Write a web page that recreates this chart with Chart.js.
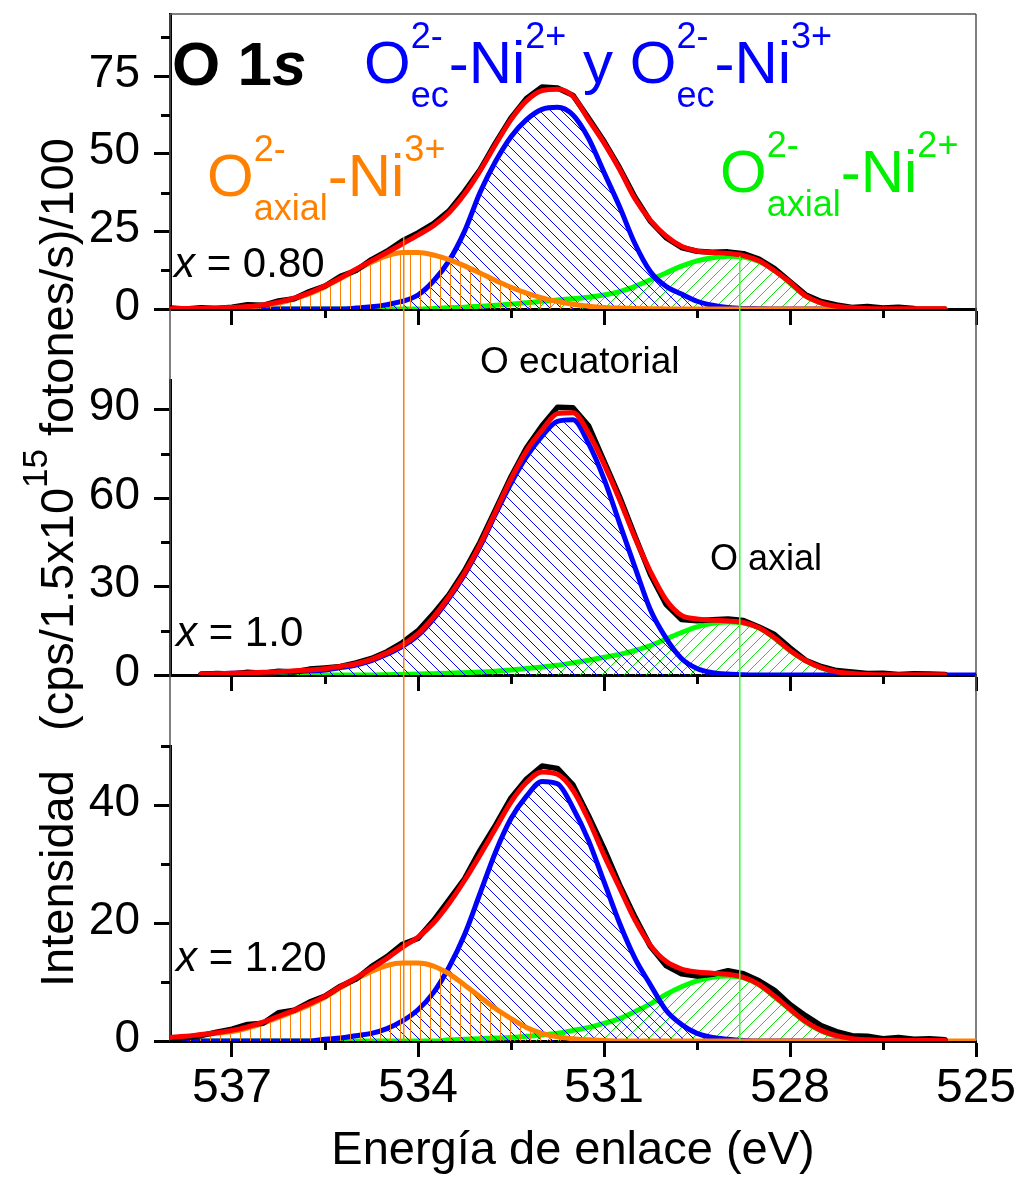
<!DOCTYPE html>
<html>
<head>
<meta charset="utf-8">
<script src="https://cdn.jsdelivr.net/npm/chart.js@4.4.1/dist/chart.umd.min.js"></script>
<style>
html,body{margin:0;padding:0;background:#fff;}
#wrap{position:relative;width:1021px;height:1179px;overflow:hidden;font-family:"Liberation Sans",Arial,sans-serif;color:#000;}
canvas{position:absolute;left:0;}
.lbl{position:absolute;white-space:nowrap;line-height:1;}
.ss{display:inline-block;position:relative;font-size:36px;line-height:1;}
.ss .sb{display:block;position:relative;top:24px;}
.ss .sp{position:absolute;left:0;top:-35px;}
.sup{font-size:36px;position:relative;top:-35px;}
</style>
</head>
<body>
<div id="wrap">
<canvas id="c1" width="1021" height="340" style="top:0px"></canvas>
<canvas id="c2" width="1021" height="397" style="top:309px"></canvas>
<canvas id="c3" width="1021" height="504" style="top:675px"></canvas>

<div class="lbl" style="left:33px;top:987px;font-size:47px;transform-origin:0 0;transform:rotate(-90deg)">Intensidad&nbsp;&nbsp; (cps/1.5x10<span style="font-size:35px;position:relative;top:-26px">15</span> fotones/s)/100</div>

<div class="lbl" style="left:172px;top:33px;font-size:62px;font-weight:bold">O 1<i>s</i></div>
<div class="lbl" style="left:364px;top:33px;font-size:60px;color:#0000FF">O<span class="ss"><span class="sp">2-</span><span class="sb">ec</span></span>-Ni<span class="sup">2+</span> y O<span class="ss"><span class="sp">2-</span><span class="sb">ec</span></span>-Ni<span class="sup">3+</span></div>
<div class="lbl" style="left:207px;top:146px;font-size:60px;color:#FF8000">O<span class="ss"><span class="sp">2-</span><span class="sb">axial</span></span>-Ni<span class="sup">3+</span></div>
<div class="lbl" style="left:720px;top:142px;font-size:60px;color:#00F000">O<span class="ss"><span class="sp">2-</span><span class="sb">axial</span></span>-Ni<span class="sup">2+</span></div>
<div class="lbl" style="left:174px;top:242px;font-size:42px"><i>x</i> = 0.80</div>
<div class="lbl" style="left:480px;top:342px;font-size:37px">O ecuatorial</div>
<div class="lbl" style="left:710px;top:540px;font-size:36px">O axial</div>
<div class="lbl" style="left:176px;top:611px;font-size:42px"><i>x</i> = 1.0</div>
<div class="lbl" style="left:176px;top:936px;font-size:42px"><i>x</i> = 1.20</div>
</div>

<script>
// ---------- data ----------
const energy = [538,537.75,537.5,537.25,537,536.75,536.5,536.25,536,535.75,535.5,535.25,535,534.75,534.5,534.25,534,533.75,533.5,533.25,533,532.75,532.5,532.25,532,531.75,531.5,531.25,531,530.75,530.5,530.25,530,529.75,529.5,529.25,529,528.75,528.5,528.25,528,527.75,527.5,527.25,527,526.75,526.5,526.25,526,525.75,525.5,525.25,525];

const xMajorTicks = [537,534,531,528,525];
const xMinorTicks = [535.5,532.5,529.5,526.5];

// panel 1 : x = 0.80
const p1Data   = [0.3,0.0,0.4,0.2,0.6,1.4,1.2,2.6,3.3,5.6,7.4,10.5,12.4,15.9,18.6,22.0,24.5,27.5,31.6,37.8,44.8,53.5,61.5,67.8,71.5,71.2,68.8,61.5,54.0,45.5,36.0,28.2,23.0,19.8,18.6,18.3,18.4,17.8,16.1,13.0,8.8,4.6,2.4,1.3,0.5,0.8,0.3,0.6,0.2,null,null,null,null];
const p1Fit    = [0.1,0.15,0.2,0.3,0.5,0.8,1.3,2.2,3.5,5.2,7.5,10.0,12.8,15.5,18.2,21.0,23.8,26.8,31.0,37.0,44.5,53.0,61.0,67.0,70.3,70.8,68.5,61.0,53.5,45.0,35.5,28.5,23.5,20.2,18.7,18.2,17.9,17.2,15.5,12.3,8.6,4.2,2.0,0.9,0.4,0.2,0.1,0.1,0.1,0.1,0.1,null,null];
const p1AxNi3  = [0,0.03,0.06,0.14,0.3,0.6,1.1,1.9,3.2,4.9,7.1,9.8,12.5,15.1,17.1,18.2,18.2,17.4,15.9,13.9,11.6,9.2,7.0,5.1,3.6,2.4,1.5,0.9,0.5,0.3,0.15,0.08,0.04,0,0,0,0,0,0,0,0,0,0,0,0,0,0,0,0,0,0,null,null];
const p1Ec     = [0,0,0,0,0,0,0,0,0,0,0,0,0.3,0.7,1.4,2.5,4.5,9.0,15.5,25.0,37.5,47.5,55.5,61.0,64.3,65.0,62.5,55.0,44.0,33.0,21.0,12.0,7.3,4.8,2.5,1.2,0.5,0.2,0.1,0,0,0,0,0,0,0,0,0,0,0,0,null,null];
const p1AxNi2  = [0,0,0,0,0,0,0,0,0,0,0,0,0,0,0,0,0,0.2,0.4,0.6,0.9,1.2,1.6,2.0,2.5,2.9,3.3,3.8,4.5,5.6,7.3,9.4,11.6,13.8,15.5,16.5,17.0,16.7,15.3,12.5,8.3,4.2,2.0,0.9,0.35,0.12,0,0,0,0,0,null,null];
const p1YMajor = [0,25,50,75];
const p1YMinor = [12.5,37.5,62.5,87.5];
const p1YMax   = 95;
const p1RefTops = [23.2,17.0];

// panel 2 : x = 1.0
const p2Data   = [null,null,0.2,0.5,0.3,0.9,0.6,1.3,1.0,2.0,2.4,2.9,4.1,5.6,7.9,11.0,15.0,20.8,27.2,35.3,45.0,56.0,67.2,77.0,84.5,90.8,90.6,84.5,72.5,60.5,47.0,34.0,24.0,18.8,18.4,18.7,19.0,18.5,16.3,13.7,9.2,5.0,2.9,1.5,1.0,0.5,0.6,0.2,0.4,0.3,0.2,null,null];
const p2Fit    = [null,null,0.3,0.4,0.6,0.7,0.9,1.1,1.4,1.7,2.1,2.9,3.8,5.3,7.5,10.2,14.0,19.6,26.6,34.6,44.2,55.3,66.5,76.0,83.0,88.6,88.9,82.0,71.5,59.5,46.5,35.0,25.5,20.2,19.0,18.6,18.3,17.8,16.0,12.6,8.3,4.9,2.5,1.1,0.5,0.2,0.1,0.1,0.1,0.1,0.1,null,null];
const p2Ec     = [null,null,0.4,0.5,0.6,0.7,0.8,1.0,1.2,1.4,1.7,2.5,3.4,4.9,7.0,9.7,13.4,19.0,26.0,34.0,43.5,54.5,65.0,74.0,81.0,86.0,86.5,78.5,66.5,51.5,36.5,22.0,12.5,5.6,2.2,0.8,0.3,0.1,0,0,0,0,0,0,0,0,0,0,0,0,0,0,0];
const p2AxNi2  = [null,null,0,0,0,0,0,0,0,0,0,0,0,0,0.1,0.2,0.3,0.45,0.6,0.8,1.0,1.3,1.7,2.2,2.7,3.3,4.1,5.0,6.0,7.0,8.3,10.0,12.2,14.4,16.3,17.5,18.0,17.6,15.9,12.5,8.2,4.8,2.4,1.0,0.4,0.15,0,0,0,0,0,null,null];
const p2YMajor = [0,30,60,90];
const p2YMinor = [15,45,75];
const p2YMax   = 100;

// panel 3 : x = 1.20
const p3Data   = [0.2,0.6,0.9,1.5,2.0,2.8,3.0,4.8,5.2,6.6,7.6,9.3,10.5,12.6,14.3,16.4,17.4,20.4,23.9,27.5,32.3,36.6,41.2,44.4,46.6,46.2,43.4,38.2,32.6,26.5,21.0,16.0,12.8,11.4,11.0,11.3,11.9,11.4,10.2,8.6,6.2,4.3,2.6,1.6,0.9,0.8,0.4,0.6,0.3,0.4,0.2,null,null];
const p3Fit    = [0.6,0.8,1.1,1.4,1.8,2.4,3.2,4.2,5.2,6.3,7.6,9.2,10.7,12.3,14.0,15.9,17.6,20.0,23.3,27.2,31.5,36.0,40.5,43.8,45.6,45.2,42.5,37.5,31.5,26.0,20.5,16.2,13.5,12.2,11.7,11.5,11.3,10.8,9.6,7.6,5.4,3.3,1.8,0.9,0.4,0.2,0.1,0.1,0.1,0.1,0.1,null,null];
const p3AxNi3  = [0.5,0.7,1.0,1.3,1.6,2.2,3.0,4.0,5.0,6.1,7.4,9.0,10.5,11.8,12.8,13.2,13.2,12.7,11.4,9.5,7.5,5.5,3.8,2.3,1.3,0.7,0.4,0.2,0.1,0,0,0,0,0,0,0,0,0,0,0,0,0,0,0,0,0,0,0,0,0,0,0,0];
const p3Ec     = [0,0,0,0,0,0,0,0,0,0,0.3,0.5,0.9,1.3,2.1,3.4,5.3,8.2,12.5,18.0,25.0,32.0,37.7,41.5,44.0,43.6,39.5,34.0,27.0,20.0,14.0,9.5,5.2,2.8,1.3,0.6,0.3,0.1,0,0,0,0,0,0,0,0,0,0,0,0,0,null,null];
const p3AxNi2  = [0,0,0,0,0,0,0,0,0,0,0,0,0,0,0,0,0,0,0.2,0.3,0.4,0.5,0.6,0.8,1.0,1.3,1.8,2.3,3.0,3.8,5.0,6.3,7.9,9.2,10.2,10.8,11.0,10.7,9.5,7.5,5.3,3.2,1.7,0.8,0.35,0.15,0,0,0,0,0,null,null];
const p3YMajor = [0,20,40];
const p3YMinor = [10,30,50];
const p3YMax   = 50;

// vertical reference lines (binding energies)
const refLineX = [534.23, 528.81];
const refLineColors = ['#FF8000', '#33FF33'];

// ---------- styling helpers ----------
const FONT = '"Liberation Sans", Arial, sans-serif';
Chart.defaults.font.family = FONT;
Chart.defaults.color = '#000';

function hatch(color, kind, s) {
  const c = document.createElement('canvas');
  c.width = s; c.height = s;
  const g = c.getContext('2d');
  g.strokeStyle = color; g.lineWidth = 1;
  g.beginPath();
  if (kind === 'v') {
    g.moveTo(0.5, 0); g.lineTo(0.5, s);
  } else if (kind === 'b') { // "\"
    g.moveTo(0, 0); g.lineTo(s, s);
    g.moveTo(-1, s - 1); g.lineTo(1, s + 1);
    g.moveTo(s - 1, -1); g.lineTo(s + 1, 1);
  } else { // "/"
    g.moveTo(0, s); g.lineTo(s, 0);
    g.moveTo(-1, 1); g.lineTo(1, -1);
    g.moveTo(s - 1, s + 1); g.lineTo(s + 1, s - 1);
  }
  g.stroke();
  return g.createPattern(c, 'repeat');
}
const patBlue = hatch('#0000FF', 'b', 11);
const patGreen = hatch('#10E010', 'f', 11);
const patOrange = hatch('#FF8000', 'v', 10);

function pts(arr) { return energy.map((e, i) => ({ x: e, y: arr[i] })); }
function lineDs(arr, color, width, pattern, smooth) {
  return {
    data: pts(arr),
    borderColor: color,
    borderWidth: width,
    pointRadius: 0,
    borderJoinStyle: 'round',
    borderCapStyle: 'round',
    fill: pattern ? 'origin' : false,
    backgroundColor: pattern || 'transparent',
    cubicInterpolationMode: smooth ? 'monotone' : 'default',
    tension: 0
  };
}

// ---------- plugins (draw via the chart's scales) ----------
const minorTickPlugin = {
  id: 'minorTicks',
  afterDraw(chart, args, o) {
    const { ctx, chartArea: a, scales: { x, y } } = chart;
    ctx.save();
    ctx.strokeStyle = '#000'; ctx.lineWidth = 3;
    ctx.beginPath();
    o.x.forEach(v => { const px = Math.round(x.getPixelForValue(v)) + 0.5; ctx.moveTo(px, a.bottom); ctx.lineTo(px, a.bottom + o.len); });
    o.y.forEach(v => { const py = Math.round(y.getPixelForValue(v)) + 0.5; ctx.moveTo(a.left, py); ctx.lineTo(a.left - o.len, py); });
    ctx.stroke();
    ctx.restore();
  }
};
const framePlugin = {
  id: 'frame',
  beforeDatasetsDraw(chart, args, o) {
    const { ctx, chartArea: a } = chart;
    ctx.save();
    ctx.strokeStyle = '#555'; ctx.lineWidth = 1.5;
    ctx.beginPath();
    const top = o.fromCanvasTop ? 0 : a.top;
    ctx.moveTo(a.left, top); ctx.lineTo(a.left, a.bottom);
    ctx.moveTo(a.right, top); ctx.lineTo(a.right, a.bottom);
    if (o.topLine) { ctx.moveTo(a.left, a.top); ctx.lineTo(a.right, a.top); }
    ctx.stroke();
    ctx.restore();
  }
};
const refLinePlugin = {
  id: 'refLines',
  afterDatasetsDraw(chart, args, o) {
    const { ctx, chartArea: a, scales: { x, y } } = chart;
    ctx.save();
    ctx.lineWidth = 1.5;
    refLineX.forEach((v, i) => {
      const px = x.getPixelForValue(v);
      const top = o.tops ? y.getPixelForValue(o.tops[i]) : 0;
      ctx.strokeStyle = refLineColors[i];
      ctx.beginPath(); ctx.moveTo(px, top); ctx.lineTo(px, a.bottom); ctx.stroke();
    });
    ctx.restore();
  }
};

function makeChart(id, cfg) {
  const gridOpts = { display: true, drawOnChartArea: false, drawTicks: true, tickLength: 16, tickWidth: 3, tickColor: '#000' };
  const borderOpts = { display: true, color: '#000', width: 3 };
  return new Chart(document.getElementById(id), {
    type: 'line',
    data: { datasets: cfg.datasets },
    options: {
      responsive: false,
      animation: false,
      events: [],
      layout: { padding: { top: cfg.padTop, right: 45, left: 0, bottom: 0 } },
      plugins: {
        legend: { display: false },
        tooltip: { enabled: false },
        minorTicks: { x: xMinorTicks, y: cfg.yMinor, len: 9 },
        frame: { fromCanvasTop: cfg.frameFromTop, topLine: cfg.topLine },
        refLines: { tops: cfg.refTops }
      },
      scales: {
        x: {
          type: 'linear', min: 525, max: 538, reverse: true,
          afterBuildTicks: s => { s.ticks = xMajorTicks.map(v => ({ value: v })); },
          afterFit: s => { s.height = cfg.xHeight; s.paddingLeft = 0; s.paddingRight = 0; },
          grid: gridOpts, border: borderOpts,
          ticks: { display: cfg.showX, autoSkip: false, maxRotation: 0, padding: 3, color: '#000', font: { size: 48, family: FONT } },
          title: { display: cfg.showX, text: 'Energía de enlace (eV)', color: '#000', font: { size: 47, family: FONT }, padding: { top: 0, bottom: 0 } }
        },
        y: {
          type: 'linear', min: 0, max: cfg.yMax,
          afterBuildTicks: s => { s.ticks = cfg.yMajor.map(v => ({ value: v })); },
          afterFit: s => { s.width = 170; s.paddingTop = 0; s.paddingBottom = 0; },
          grid: gridOpts, border: borderOpts,
          ticks: { autoSkip: false, padding: 14, labelOffset: -2, color: '#000', font: { size: 46, family: FONT } }
        }
      }
    },
    plugins: [framePlugin, minorTickPlugin, refLinePlugin]
  });
}

makeChart('c1', {
  padTop: 14, xHeight: 31, showX: false, yMax: p1YMax, yMajor: p1YMajor, yMinor: p1YMinor,
  frameFromTop: false, topLine: true, refTops: p1RefTops,
  datasets: [
    lineDs(p1Fit, '#FF0000', 5, null, true),
    lineDs(p1Data, '#000000', 5.5, null, false),
    lineDs(p1AxNi3, '#FF8000', 5, patOrange, true),
    lineDs(p1Ec, '#0000FF', 5, patBlue, true),
    lineDs(p1AxNi2, '#00FF00', 5, patGreen, true)
  ]
});
makeChart('c2', {
  padTop: 71, xHeight: 31, showX: false, yMax: p2YMax, yMajor: p2YMajor, yMinor: p2YMinor,
  frameFromTop: true, topLine: false, refTops: null,
  datasets: [
    lineDs(p2Fit, '#FF0000', 5, null, true),
    lineDs(p2Data, '#000000', 5.5, null, false),
    lineDs(p2Ec, '#0000FF', 5, patBlue, true),
    lineDs(p2AxNi2, '#00FF00', 5, patGreen, true)
  ]
});
makeChart('c3', {
  padTop: 71, xHeight: 138, showX: true, yMax: p3YMax, yMajor: p3YMajor, yMinor: p3YMinor,
  frameFromTop: true, topLine: false, refTops: null,
  datasets: [
    lineDs(p3Fit, '#FF0000', 5, null, true),
    lineDs(p3Data, '#000000', 5.5, null, false),
    lineDs(p3AxNi3, '#FF8000', 5, patOrange, true),
    lineDs(p3Ec, '#0000FF', 5, patBlue, true),
    lineDs(p3AxNi2, '#00FF00', 5, patGreen, true)
  ]
});
</script>
</body>
</html>
